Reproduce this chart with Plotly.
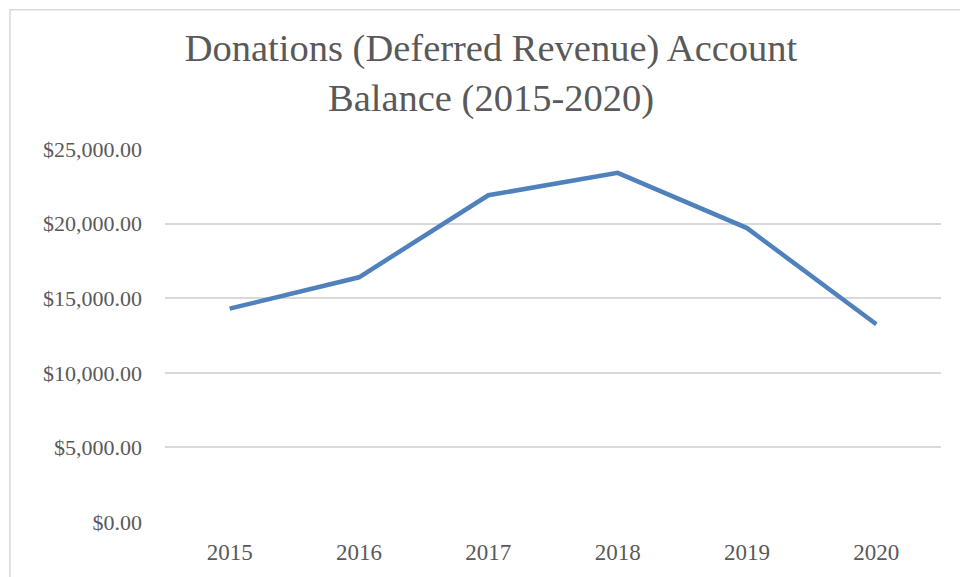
import plotly.graph_objects as go

years = ["2015", "2016", "2017", "2018", "2019", "2020"]
balance = [14300, 16400, 21900, 23400, 19700, 13250]
y_ticks = [0, 5000, 10000, 15000, 20000, 25000]
y_tick_labels = ["$0.00", "$5,000.00", "$10,000.00", "$15,000.00", "$20,000.00", "$25,000.00"]
title_text = "Donations (Deferred Revenue) Account<br>Balance (2015-2020)"

FONT = "Liberation Serif, Cambria, serif"
GREY_TEXT = "#595959"
GRID = "#d9d9d9"

fig = go.Figure()
fig.add_trace(go.Scatter(
    x=years, y=balance, mode="lines",
    line=dict(color="#4f81bd", width=4.5),
    showlegend=False,
))

# plot area: x 165..941 px, y 149..524 px
L, R, T, B = 165, 19, 149, 53
W, H = 960, 577
pw, ph = W - L - R, H - T - B

def px_to_paper_x(px):
    return (px - L) / pw

def px_to_paper_y(py):
    return (H - B - py) / ph

fig.update_layout(
    width=W, height=H,
    margin=dict(l=L, r=R, t=T, b=B),
    paper_bgcolor="white", plot_bgcolor="white",
    title=dict(
        text=title_text,
        font=dict(family=FONT, size=38.5, color=GREY_TEXT),
        x=491 / W, xanchor="center", xref="container",
        y=1 - 61 / H, yanchor="top", yref="container",
    ),
    font=dict(family=FONT, color=GREY_TEXT),
    xaxis=dict(
        type="category", range=[-0.5, 5.5],
        showgrid=False, showline=False, zeroline=False,
        ticks="", tickfont=dict(family=FONT, size=23, color=GREY_TEXT),
        ticklabelstandoff=14,
    ),
    yaxis=dict(
        range=[0, 25000],
        tickvals=y_ticks, ticktext=y_tick_labels,
        showgrid=True, gridcolor=GRID, gridwidth=1.5,
        zeroline=False, showline=False, ticks="",
        tickfont=dict(family=FONT, size=22, color=GREY_TEXT),
        ticklabelstandoff=22,
    ),
    shapes=[dict(
        type="rect", xref="paper", yref="paper",
        x0=px_to_paper_x(10), x1=px_to_paper_x(975),
        y0=px_to_paper_y(600), y1=px_to_paper_y(9),
        line=dict(color=GRID, width=1.5), fillcolor="rgba(0,0,0,0)",
        layer="below",
    )],
)

fig.write_html("out.html")
